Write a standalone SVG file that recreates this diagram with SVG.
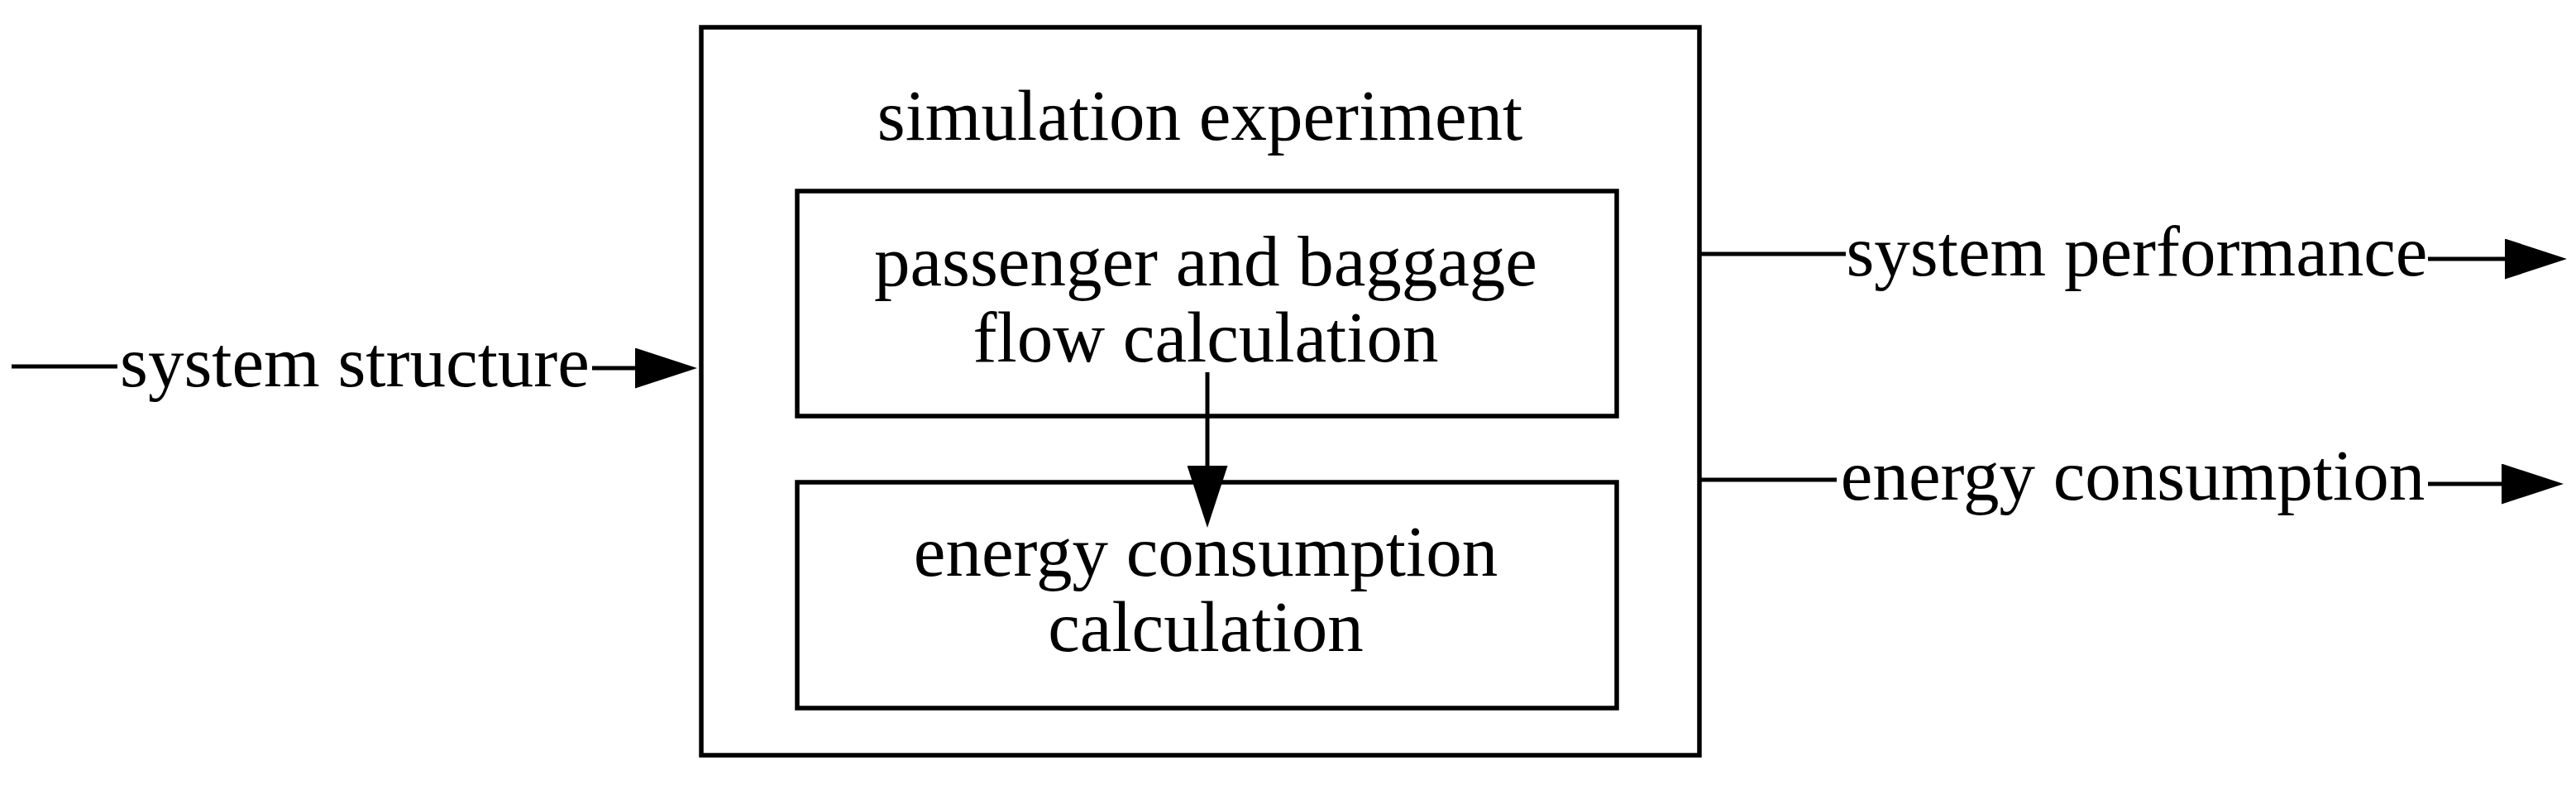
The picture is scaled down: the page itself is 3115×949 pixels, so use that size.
<svg xmlns="http://www.w3.org/2000/svg" width="3115" height="949" viewBox="0 0 3115 949">
<style>
.box{fill:none;stroke:#000;stroke-width:5.5}
.conn{fill:none;stroke:#000;stroke-width:5}
.lbl{font-family:"Liberation Serif","Times New Roman",serif;font-size:87px;fill:#000;text-anchor:middle}
</style>
<defs>
<marker id="ah" viewBox="0 0 75 49" refX="0" refY="24.5" markerWidth="75" markerHeight="49" markerUnits="userSpaceOnUse" orient="auto">
<path d="M0,0 L75,24.5 L0,49 Z" fill="#000"/>
</marker>
</defs>
<rect width="3115" height="949" fill="#fff"/>
<g id="outer">
<rect class="box" x="848" y="33" width="1207" height="880"/>
<text class="lbl" x="1451" y="169">simulation experiment</text>
</g>
<g id="flow">
<rect class="box" x="964" y="231" width="991" height="272"/>
<text class="lbl" x="1458" y="345">passenger and baggage</text>
<text class="lbl" x="1458" y="437">flow calculation</text>
</g>
<g id="energy">
<rect class="box" x="964" y="583" width="991" height="273"/>
<text class="lbl" x="1458" y="696">energy consumption</text>
<text class="lbl" x="1458" y="787">calculation</text>
</g>
<g id="connectors">
<path class="conn" d="M14,443 L142,443 M716,445 L768,445" marker-end="url(#ah)"/>
<path class="conn" d="M1460,450 L1460,563" marker-end="url(#ah)"/>
<path class="conn" d="M2055,307 L2232,307 M2936,313 L3029,313" marker-end="url(#ah)"/>
<path class="conn" d="M2055,580 L2221,580 M2936,585 L3025,585" marker-end="url(#ah)"/>
<text class="lbl" x="429" y="467">system structure</text>
<text class="lbl" x="2584" y="333">system performance</text>
<text class="lbl" x="2579" y="604">energy consumption</text>
</g>
</svg>
